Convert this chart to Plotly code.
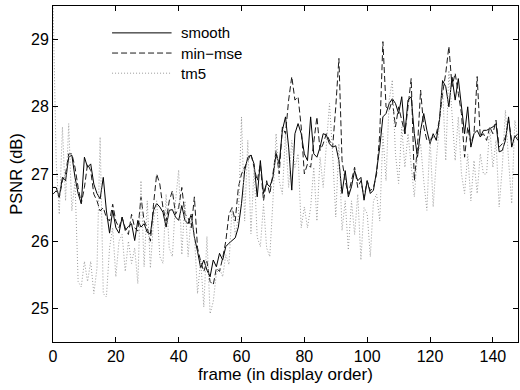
import plotly.graph_objects as go

frames = list(range(0, 149))

smooth = [26.8, 26.8, 26.66, 26.95, 26.9, 27.25, 27.28, 26.95, 26.71, 26.56,
          27.25, 27.1, 27.15, 26.85, 26.71, 26.63, 26.95, 26.45, 26.12, 26.46,
          26.2, 26.12, 26.36, 26.16, 26.22, 26.26, 26.01, 26.31, 26.21, 26.26,
          26.13, 26.11, 26.46, 26.56, 26.51, 26.43, 26.21, 26.46, 26.47, 26.36,
          26.31, 26.53, 26.31, 26.26, 26.4, 26.06, 25.85, 25.6, 25.72, 25.57,
          25.47, 25.72, 25.62, 25.82, 25.72, 25.92, 25.97, 26.01, 26.05, 26.21,
          26.56, 27.05, 27.25, 27.28, 27.15, 26.66, 27.2, 26.71, 26.86, 26.81,
          26.95, 27.3, 27.15, 27.65, 27.85, 27.4, 26.76, 27.6, 27.75, 27.6,
          27.3, 27.2, 27.85, 27.3, 27.25, 27.4, 27.6, 27.58, 27.45, 27.4,
          27.42, 27.2, 26.71, 27.05, 26.66, 26.81, 27.05, 26.9, 26.95, 26.61,
          26.9, 26.71, 26.76, 27.05, 27.4, 27.85, 27.9, 28.05, 28.12, 28.05,
          27.9, 28.15, 27.6, 28.1, 28.15, 27.6, 27.25, 27.65, 27.9, 27.65,
          27.45, 27.6, 27.5, 27.8, 28.39, 28.3, 28.0, 28.44, 28.1, 28.42,
          28.0, 27.6, 28.0, 27.4, 27.6, 27.65, 27.55, 27.65, 27.65, 27.68,
          27.7, 27.75, 27.33, 27.35, 27.5, 27.85, 27.4, 27.57, 27.5]

min_mse = [26.7, 26.75, 26.65, 26.9, 27.0, 27.3, 27.3, 27.1, 26.8, 26.56,
           26.8, 27.15, 27.05, 26.7, 26.6, 26.45, 26.5, 26.35, 26.3, 26.55,
           26.3, 26.2, 26.35, 26.2, 26.1, 26.4, 26.2, 26.15, 26.66, 26.3,
           26.2, 26.0, 26.55, 27.0, 26.85, 26.5, 26.3, 26.6, 26.75, 26.4,
           26.5, 26.8, 26.4, 26.35, 26.2, 26.66, 25.9, 25.7, 25.55, 25.7,
           25.4, 25.35, 25.6, 25.55, 25.75, 26.0, 26.4, 26.5, 26.3, 26.8,
           27.0, 27.1, 27.2, 27.3, 27.1, 26.9, 27.15, 26.6, 26.9, 26.7,
           27.0, 27.35, 27.0, 27.7, 27.6, 28.1, 28.45, 28.1, 28.15, 27.7,
           27.0, 27.15, 27.1, 27.5, 27.85, 27.35, 27.45, 27.6, 27.5, 27.4,
           28.0, 28.72, 27.2, 26.9, 26.7, 26.9, 27.1, 26.8, 26.9, 26.65,
           26.9, 26.75, 26.8, 27.0, 27.6, 28.97, 28.0, 27.95, 28.1, 27.7,
           28.0, 27.8, 27.6, 28.0, 28.42, 26.9, 27.4, 28.25, 27.7, 27.5,
           27.5, 27.55, 27.6, 27.8, 28.2, 28.5, 28.9, 28.3, 28.5, 28.2,
           27.9, 27.25, 27.7, 27.45, 27.6, 28.45, 27.55, 27.6, 27.5, 27.7,
           27.6, 27.8, 27.4, 27.45, 27.55, 27.8, 27.5, 27.55, 27.6]

tm5 = [29.6, 27.2, 26.4, 27.7, 26.6, 27.75, 26.45, 26.9, 25.4, 25.32,
       25.7, 25.4, 25.7, 25.22, 25.6, 27.55, 25.22, 25.17, 25.9, 26.2,
       25.47, 26.0, 26.1, 25.55, 26.0, 25.67, 25.9, 25.37, 26.9, 25.62,
       26.6, 25.6, 26.3, 26.6, 25.77, 25.67, 26.7, 25.9, 25.77, 26.6,
       27.06, 25.8, 26.6, 25.77, 26.41, 26.1, 25.22, 25.72, 25.02, 26.07,
       24.92, 25.1, 25.52, 25.6, 25.47, 25.8, 25.65, 26.51, 26.1, 26.36,
       27.85, 26.3, 27.5, 26.11, 27.1, 26.06, 25.92, 26.55, 25.9, 25.77,
       26.6, 27.6, 26.9, 26.7, 27.6, 26.8, 27.5, 27.1, 27.3, 26.2,
       26.51, 26.2, 26.5, 27.1, 26.3, 27.25, 26.8, 27.5, 28.05, 27.3,
       26.36, 27.45, 26.16, 26.6, 25.87, 26.6, 26.1, 26.7, 25.72, 26.5,
       26.41, 25.77, 26.6, 26.7, 26.3, 27.6, 26.9, 28.1, 28.4, 27.3,
       26.86, 27.7, 27.1, 27.6, 27.1, 26.66, 27.3, 27.45, 26.9, 26.46,
       27.55, 26.51, 27.2, 27.7, 28.3, 27.2, 28.54, 27.9, 27.2, 27.85,
       27.0, 26.71, 27.3, 26.6, 27.2, 26.71, 27.3, 27.0, 27.0, 27.7,
       27.1, 27.5, 26.51, 27.1, 27.95, 27.2, 26.56, 27.8, 27.5]

x_ticks = [0, 20, 40, 60, 80, 100, 120, 140]
y_ticks = [25, 26, 27, 28, 29]
names = ["smooth", "min\u2212mse", "tm5"]

FONT = "Liberation Sans, Arial, Helvetica, sans-serif"
styles = [
    dict(color="black", width=1.0, dash="solid"),
    dict(color="#1a1a1a", width=1.0, dash="6px,3px"),
    dict(color="#9a9a9a", width=1.0, dash="1px,2px"),
]

fig = go.Figure()
for name, ys, st in zip(names, [smooth, min_mse, tm5], styles):
    fig.add_trace(go.Scatter(x=frames, y=ys, mode="lines", name=name,
                             line=st, showlegend=False, hoverinfo="skip"))

# manual legend (matlab-style, long line samples)
leg_y = [0.92, 0.86, 0.80]
for name, st, yy in zip(names, styles, leg_y):
    fig.add_shape(type="line", xref="paper", yref="paper",
                  x0=0.127, x1=0.255, y0=yy, y1=yy, line=st)
    fig.add_annotation(xref="paper", yref="paper", x=0.272, y=yy,
                       text=name, showarrow=False, xanchor="left",
                       yanchor="middle", font=dict(size=15, color="black", family=FONT))

axis_common = dict(showline=True, linecolor="black", linewidth=1, mirror="ticks",
                   ticks="inside", ticklen=5, tickcolor="black", showgrid=False,
                   zeroline=False, tickfont=dict(size=16, color="black", family=FONT))

fig.update_xaxes(range=[0, 148], tickvals=x_ticks, ticktext=[str(v) for v in x_ticks],
                 title=dict(text="frame (in display order)", font=dict(size=17, family=FONT, color="black"),
                            standoff=2),
                 **axis_common)
fig.update_yaxes(range=[24.5, 29.5], tickvals=y_ticks, ticktext=[str(v) for v in y_ticks],
                 title=dict(text="PSNR (dB)", font=dict(size=16.5, family=FONT, color="black"),
                            standoff=4),
                 **axis_common)

fig.update_layout(width=520, height=390, margin=dict(l=53, r=2, t=6, b=48),
                  plot_bgcolor="white", paper_bgcolor="white",
                  font=dict(family=FONT, color="black"))

fig.write_html("out.html", config={"displayModeBar": False},
               post_script="document.body.style.margin='0';document.body.style.overflow='hidden';")
